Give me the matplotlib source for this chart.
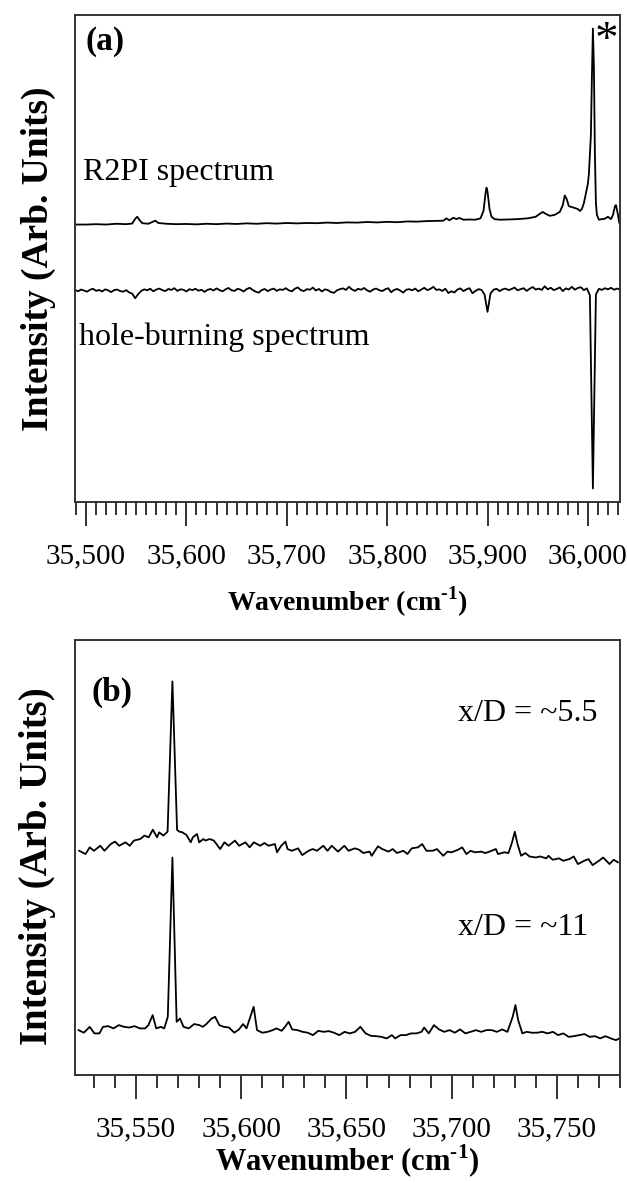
import numpy as np
import matplotlib
matplotlib.use("Agg")
import matplotlib.pyplot as plt
from matplotlib.ticker import MultipleLocator, FuncFormatter

plt.rcParams['font.family'] = ['Liberation Serif', 'DejaVu Serif']
plt.rcParams['mathtext.fontset'] = 'custom'
plt.rcParams['mathtext.rm'] = 'Liberation Serif:bold'
plt.rcParams['mathtext.bf'] = 'Liberation Serif:bold'

## panel (a): R2PI spectrum, intensity relative to baseline (main band = 100)
r2pi_wn = [35489, 35500, 35510, 35520, 35530, 35540, 35546, 35549, 35551, 35553,
           35556, 35562, 35566, 35569, 35572, 35580, 35590, 35600, 35610, 35620,
           35630, 35640, 35650, 35660, 35670, 35680, 35690, 35700, 35710, 35720,
           35730, 35740, 35750, 35760, 35770, 35780, 35790, 35800, 35810, 35820,
           35830, 35840, 35850, 35856, 35859, 35862, 35866, 35869, 35872, 35876,
           35882, 35888, 35893, 35896, 35898, 35899, 35900, 35902, 35904, 35907,
           35912, 35920, 35930, 35940, 35948, 35952, 35955, 35958, 35962, 35967,
           35972, 35975, 35977, 35979, 35981, 35984, 35987, 35990, 35992, 35994,
           35996, 35998, 36000, 36001, 36003, 36004, 36005, 36006, 36007, 36008,
           36009, 36011, 36014, 36017, 36020, 36023, 36025, 36027, 36028, 36030,
           36031, 36032]
r2pi_int = [-1.0, -1.0, -0.8, -1.0, -0.6, -0.8, -0.5, 2.0, 3.0, 1.5,
            -0.3, -0.6, 0.3, 1.0, -0.2, -0.6, -0.8, -0.7, -0.9, -0.6,
            -0.8, -0.5, -0.7, -0.4, -0.6, -0.3, -0.5, -0.2, -0.4, -0.2,
            -0.3, 0.0, -0.2, 0.1, 0.0, 0.3, 0.1, 0.4, 0.2, 0.6,
            0.5, 0.8, 0.9, 1.0, 2.2, 1.2, 2.5, 1.8, 2.4, 1.5,
            1.6, 1.5, 2.2, 6.0, 15.0, 18.0, 16.0, 7.0, 3.0, 1.8,
            1.5, 1.6, 1.8, 2.2, 3.0, 4.5, 5.5, 4.5, 3.5, 4.0,
            5.5, 9.0, 14.0, 12.0, 8.5, 8.0, 7.5, 7.0, 6.0, 7.0,
            10.0, 15.0, 20.0, 25.0, 45.0, 75.0, 100.0, 80.0, 35.0, 10.0,
            4.0, 1.5, 1.8, 2.0, 3.0, 1.8, 4.0, 8.5, 9.0, 4.0,
            0.5, -1.0]

## panel (a): hole-burning spectrum, sampled every 3 cm-1 from 35,489
hb_start, hb_step = 35489, 3
hb_int = [0.3, -0.4, 0.5, 0.0, -0.6, 0.4, 0.9, -0.2, 0.3, -0.5, 0.6, 0.1, -0.8, 0.2,
          0.5, -0.3, -0.6, 0.2, -1.0, -1.6, -4.0, -1.8, -0.2, 0.6, 0.1, 0.9, -0.4, 0.5,
          1.0, 0.2, -0.3, 0.8, 0.3, 1.2, -0.2, 0.6, 0.4, -0.5, 0.7, 0.2, 0.9, -0.1,
          0.4, -0.7, 0.3, 0.8, 0.0, 1.1, 0.2, -0.4, 0.6, 1.3, 0.1, -0.2, 0.9, 0.4,
          -0.5, 0.7, 1.4, 0.3, -0.6, -1.1, 0.2, 0.8, -0.3, 0.5, 1.0, -0.2, 0.6, 0.3,
          1.2, 0.1, -0.4, 0.9, 1.6, 0.2, -0.3, 0.7, 0.4, 1.5, 0.0, 0.8, -0.5, 0.6,
          0.2, -0.8, -1.2, 0.1, 0.7, 1.1, 0.3, 1.9, 0.5, -0.2, 0.9, 0.4, 1.3, 0.1,
          -0.6, 0.5, 1.0, 0.2, -0.3, 0.6, 1.2, -0.9, 0.3, 0.8, 0.0, -1.1, 0.4, 0.7,
          0.1, 1.0, -0.4, 0.5, 1.4, 0.2, 0.8, 1.9, 0.3, 0.6, -0.2, 0.9, -1.3, -0.4,
          -1.0, 0.5, 1.1, -0.3, 0.6, 1.2, -1.4, -0.2, 0.7, 0.3, -2.0, -11.0, -1.5, 0.4,
          0.9, -0.3, 0.6, 1.0, 0.2, 0.8, 1.5, 0.1, 0.7, 1.2, -0.2, 0.9, 1.8, 0.5,
          1.0, 0.3, 2.2, 0.6, 1.4, 0.2, 0.8, 1.6, -0.3, 1.1, 0.5, 1.9, 0.4, 1.3,
          1.7, 0.2, 1.1, -2.5, -102.0, -2.0, 0.9, 0.3, 1.2, 0.6, 1.4, 0.4, 1.0, 0.5]

## panel (b): x/D ~5.5 trace
b55_wn = [35523, 35526, 35528, 35530, 35533, 35535, 35538, 35540, 35542, 35545,
          35547, 35549, 35552, 35554, 35556, 35558, 35560, 35561, 35563, 35565,
          35567.3, 35569.5, 35570.5, 35572, 35574, 35576, 35577, 35579, 35580, 35582,
          35583, 35585, 35587, 35590, 35592, 35594, 35597, 35599, 35602, 35604,
          35606, 35609, 35611, 35613, 35616, 35617, 35619, 35621, 35622, 35624,
          35627, 35629, 35632, 35634, 35636, 35639, 35641, 35643, 35646, 35649,
          35651, 35654, 35656, 35658, 35661, 35662, 35665, 35667, 35670, 35672,
          35674, 35677, 35679, 35681, 35684, 35686, 35688, 35691, 35693, 35696,
          35698, 35700, 35703, 35705, 35707, 35709, 35711, 35714, 35716, 35718,
          35721, 35722, 35725, 35727, 35728.7, 35730, 35731.3, 35733, 35735, 35737,
          35740, 35742, 35745, 35746, 35748, 35751, 35753, 35756, 35758, 35760,
          35763, 35765, 35767, 35770, 35772, 35775, 35777, 35779]
b55_int = [1.9, 0.0, 3.9, 1.9, 4.8, 1.9, 5.8, 7.2, 4.8, 6.8,
           4.8, 7.8, 8.7, 10.7, 9.7, 14.1, 9.7, 12.6, 10.7, 13.0,
           100.0, 14.0, 13.0, 12.6, 11.0, 6.8, 9.7, 11.6, 6.8, 8.7,
           7.8, 8.7, 7.8, 2.9, 6.8, 4.8, 7.8, 4.8, 6.8, 3.9,
           6.8, 4.8, 6.4, 4.8, 5.8, 1.0, 4.8, 7.2, 2.9, 1.9,
           3.3, -0.6, 1.9, 2.9, 1.9, 4.8, 1.9, 4.8, 1.4, 4.8,
           1.9, 3.3, 2.5, 0.6, 1.4, -1.0, 4.5, 2.9, 1.4, 2.9,
           0.6, 1.9, 0.0, 3.3, 3.9, 5.8, 1.9, 1.9, 2.9, -1.0,
           1.4, 1.0, 2.5, 3.9, 0.0, 1.9, 1.0, 1.4, 0.6, 1.4,
           2.9, 0.0, 1.0, 0.6, 6.8, 12.9, 5.8, -1.0, 0.6, -1.4,
           -2.0, -1.4, -2.5, -1.0, -3.3, -2.5, -3.9, -2.9, -1.4, -5.8,
           -3.9, -2.9, -6.4, -3.9, -2.0, -5.8, -3.3, -4.8]

## panel (b): x/D ~11 trace
b11_wn = [35522.7, 35525.2, 35528, 35530.2, 35532.6, 35534.3, 35536.8, 35539.3, 35541.8, 35544.3,
          35546.8, 35549.3, 35551.8, 35554.3, 35555.9, 35557.9, 35559.6, 35561.8, 35563.4, 35565.1,
          35567.3, 35569.3, 35570.9, 35572.6, 35575.1, 35577.6, 35580.1, 35581.7, 35583.4, 35585.9,
          35587.6, 35589.6, 35591.7, 35594.2, 35596.7, 35598.9, 35600.9, 35602.5, 35605.9, 35607.5,
          35610, 35612.5, 35615, 35616.7, 35619.2, 35620.8, 35622.5, 35624.2, 35626.7, 35629.2,
          35631.6, 35634.1, 35636.6, 35639.1, 35641.6, 35644.1, 35646.6, 35649.1, 35651.6, 35654.1,
          35656.6, 35659.1, 35661.6, 35664.1, 35666.6, 35669.1, 35671.6, 35673.2, 35675.7, 35678.2,
          35680.7, 35683.2, 35685.7, 35686.9, 35689.1, 35691.6, 35694, 35696.5, 35699, 35701.5,
          35704, 35706.5, 35709, 35711.5, 35714, 35716.5, 35719, 35721.5, 35724, 35726.5,
          35729, 35730.3, 35731.6, 35733.6, 35735.6, 35738.1, 35740.6, 35743.1, 35745.6, 35748.1,
          35750.6, 35753.1, 35755.6, 35758.1, 35760.6, 35763.1, 35765.6, 35768.1, 35770.6, 35773.1,
          35775.6, 35778.1, 35779.7]
b11_int = [0.0, -1.5, 1.9, -1.9, -1.9, 1.9, 2.3, 1.0, 2.9, 1.9,
           1.5, 2.3, 1.0, 1.0, 2.9, 8.7, 1.0, 1.9, 1.0, 7.7,
           100.0, 4.8, 6.7, 1.9, 1.0, 3.5, 2.9, 1.9, 3.5, 6.7,
           7.7, 2.9, 1.9, 1.5, -1.5, 0.4, 3.5, 1.0, 13.5, 0.0,
           -1.5, -1.0, 0.0, 1.0, -0.4, 1.9, 4.8, 0.4, 0.0, -1.0,
           -1.5, -2.9, -0.4, -1.0, -0.6, -1.5, -2.9, -1.0, -1.9, -1.0,
           1.9, -1.9, -3.3, -3.5, -3.9, -4.8, -2.9, -4.8, -2.9, -2.9,
           -1.9, -1.9, -1.0, 1.5, -1.9, 2.9, 0.4, -1.0, 0.0, -1.5,
           0.4, -1.9, -1.0, 0.0, -1.0, 0.0, 0.0, -1.0, 0.4, -1.0,
           7.7, 14.5, 5.8, -1.9, -1.0, -1.5, -1.5, -1.0, -1.9, -1.0,
           -2.9, -1.9, -3.9, -3.5, -2.9, -2.3, -3.9, -3.5, -4.8, -3.5,
           -4.8, -5.8, -4.8]

# vertical offsets used to stack the traces
off_r2pi, off_hb = 144, 109
off_b55, off_b11 = 128, 26

W, H = 6.27, 11.83
fig = plt.figure(figsize=(W, H), dpi=100)

def px_axes(l, t, r, b):
    return fig.add_axes([l / 627, 1 - b / 1183, (r - l) / 627, (b - t) / 1183])

def style_axes(ax, major, minor):
    for s in ax.spines.values():
        s.set_linewidth(1.4)
        s.set_color('#333333')
    ax.set_yticks([])
    ax.xaxis.set_major_locator(MultipleLocator(major))
    ax.xaxis.set_minor_locator(MultipleLocator(minor))
    ax.xaxis.set_major_formatter(FuncFormatter(lambda v, p: f"{v:,.0f}"))
    ax.tick_params(axis='x', which='major', direction='out', length=17, width=1.3,
                   pad=13, labelsize=21, color='#222222')
    ax.tick_params(axis='x', which='minor', direction='out', length=9, width=1.3,
                   color='#222222')

xlab = r'Wavenumber (cm$^{\text{-}1}$)'
ylab = 'Intensity (Arb. Units)'

# ---- panel (a)
axa = px_axes(75, 15, 620, 502)
hb_wn = hb_start + hb_step * np.arange(len(hb_int))
axa.plot(r2pi_wn, np.array(r2pi_int) + off_r2pi, color='black', lw=1.3)
axa.plot(hb_wn, np.array(hb_int) + off_hb, color='black', lw=1.3)
axa.set_xlim(35489, 36032)
axa.set_ylim(0, 251)
style_axes(axa, 100, 10)
axa.set_xlabel(xlab, fontsize=20, fontweight='bold')
axa.xaxis.set_label_coords(0.5, -0.17)
axa.set_ylabel(ylab, fontsize=27, fontweight='bold')
axa.yaxis.set_label_coords(-0.035, 0.5)
axa.text(0.02, 0.945, '(a)', transform=axa.transAxes, fontsize=24, fontweight='bold', va='center')
axa.text(0.975, 0.945, '*', transform=axa.transAxes, fontsize=34, ha='center', va='center')
axa.text(0.015, 0.676, 'R2PI spectrum', transform=axa.transAxes, fontsize=23, va='center')
axa.text(0.008, 0.339, 'hole-burning spectrum', transform=axa.transAxes, fontsize=23, va='center')

# ---- panel (b)
axb = px_axes(75, 640, 620, 1075)
axb.plot(b55_wn, np.array(b55_int) + off_b55, color='black', lw=1.3)
axb.plot(b11_wn, np.array(b11_int) + off_b11, color='black', lw=1.3)
axb.set_xlim(35521, 35780)
axb.set_ylim(0, 252)
style_axes(axb, 50, 10)
axb.set_xlabel(xlab, fontsize=22, fontweight='bold')
axb.xaxis.set_label_coords(0.5, -0.155)
axb.set_ylabel(ylab, fontsize=28, fontweight='bold')
axb.yaxis.set_label_coords(-0.035, 0.48)
axb.text(0.031, 0.88, '(b)', transform=axb.transAxes, fontsize=24, fontweight='bold', va='center')
axb.text(0.703, 0.83, 'x/D = ~5.5', transform=axb.transAxes, fontsize=23, va='center')
axb.text(0.703, 0.34, 'x/D = ~11', transform=axb.transAxes, fontsize=23, va='center')

fig.savefig('out.png', dpi=100)
